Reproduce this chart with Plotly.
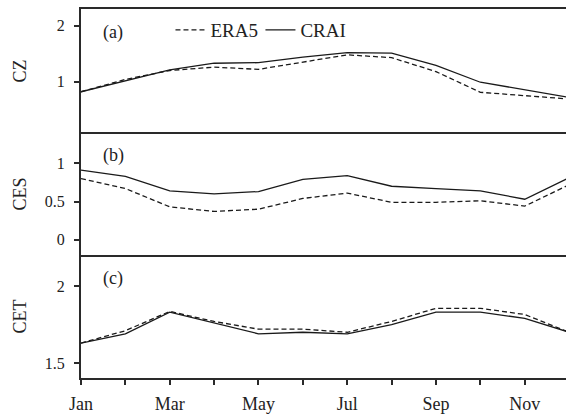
import plotly.graph_objects as go
from plotly.subplots import make_subplots

months = list(range(1, 13))
month_labels = ["Jan", "", "Mar", "", "May", "", "Jul", "", "Sep", "", "Nov", ""]

cz_era5 = [0.82, 1.04, 1.20, 1.26, 1.22, 1.35, 1.48, 1.43, 1.18, 0.81, 0.75, 0.69]
cz_crai = [0.82, 1.01, 1.21, 1.33, 1.34, 1.44, 1.52, 1.51, 1.29, 0.99, 0.86, 0.72]

ces_era5 = [0.80, 0.67, 0.43, 0.37, 0.40, 0.54, 0.61, 0.49, 0.49, 0.51, 0.44, 0.72]
ces_crai = [0.91, 0.83, 0.64, 0.60, 0.63, 0.79, 0.84, 0.70, 0.67, 0.64, 0.53, 0.81]

cet_era5 = [1.63, 1.71, 1.835, 1.77, 1.72, 1.72, 1.70, 1.77, 1.855, 1.855, 1.815, 1.70]
cet_crai = [1.63, 1.69, 1.83, 1.76, 1.69, 1.70, 1.69, 1.75, 1.83, 1.83, 1.79, 1.70]

panels = [
    ("CZ", "(a)", cz_era5, cz_crai, [0.1, 2.3], [1, 2], ["1", "2"]),
    ("CES", "(b)", ces_era5, ces_crai, [-0.2, 1.41], [0, 0.5, 1], ["0", "0.5", "1"]),
    ("CET", "(c)", cet_era5, cet_crai, [1.404, 2.2], [1.5, 2], ["1.5", "2"]),
]

FONT = "Liberation Serif"
AX = "#2a2a2a"
LINE = "#1a1a1a"
TXT = "#222"

fig = make_subplots(rows=3, cols=1, shared_xaxes=True, vertical_spacing=0)

for i, (name, lab, era, crai, yr, tv, tt) in enumerate(panels, start=1):
    fig.add_trace(go.Scatter(x=months, y=era, mode="lines", name="ERA5",
                             line=dict(color=LINE, width=1.3, dash="5px,3px"),
                             showlegend=(i == 1), legend="legend"), row=i, col=1)
    fig.add_trace(go.Scatter(x=months, y=crai, mode="lines", name="CRAI",
                             line=dict(color=LINE, width=1.3),
                             showlegend=(i == 1), legend="legend2"), row=i, col=1)
    fig.update_yaxes(range=yr, tickvals=tv, ticktext=tt, ticks="outside", ticklen=5,
                     tickwidth=1.5, tickcolor=AX, showline=True, linewidth=2, linecolor=AX,
                     showgrid=False, zeroline=False, ticklabelstandoff=6,
                     tickfont=dict(family=FONT, size=16, color=TXT), row=i, col=1)
    yref = "y domain" if i == 1 else f"y{i} domain"
    fig.add_annotation(text=name, xref="paper", yref=yref, x=-0.126, y=0.5,
                       textangle=-90, showarrow=False, xanchor="center", yanchor="middle",
                       font=dict(family=FONT, size=18, color=TXT))
    fig.add_annotation(text=lab, xref="paper", yref=yref, x=0.066, y=0.81,
                       showarrow=False, xanchor="center", yanchor="middle",
                       font=dict(family=FONT, size=18, color=TXT))

fig.update_xaxes(range=[1, 11.93], showline=True, linewidth=2, linecolor=AX,
                 showgrid=False, zeroline=False)
fig.update_xaxes(mirror=True, row=1, col=1)
fig.update_xaxes(tickvals=months, ticktext=month_labels, ticks="outside", ticklen=5,
                 tickwidth=1.5, tickcolor=AX, ticklabelstandoff=3,
                 tickfont=dict(family=FONT, size=18, color=TXT), row=3, col=1)

legend_common = dict(orientation="h", y=0.943, xanchor="left", yanchor="middle",
                     bgcolor="rgba(0,0,0,0)", itemwidth=30,
                     font=dict(family=FONT, size=19, color=TXT))

fig.update_layout(
    width=566, height=414,
    margin=dict(l=81, r=0, t=9, b=36),
    plot_bgcolor="white", paper_bgcolor="white",
    showlegend=True,
    legend=dict(x=0.1845, **legend_common),
    legend2=dict(x=0.370, **legend_common),
)

fig.write_html("out.html")
